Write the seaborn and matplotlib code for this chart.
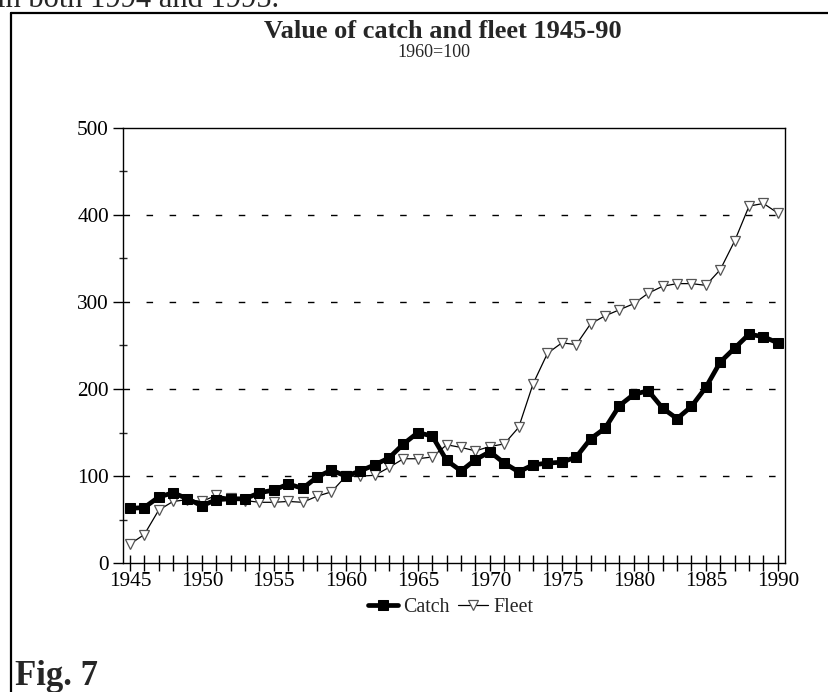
import numpy as np
import pandas as pd
import matplotlib
matplotlib.use("Agg")
import matplotlib.pyplot as plt
import seaborn as sns
from matplotlib.lines import Line2D
from matplotlib.ticker import MultipleLocator

years = list(range(1945, 1991))
catch = [63, 64, 76, 81, 74, 66, 73, 74, 74, 81, 84, 91, 86, 99, 107,
         100, 106, 113, 121, 137, 150, 146, 118, 106, 119, 128, 115, 105, 113, 115,
         116, 122, 143, 155, 181, 194, 198, 178, 166, 180, 202, 231, 247, 263, 260, 253]
fleet = [22, 33, 61, 71, 73, 71, 78, 75, 72, 70, 70, 71, 70, 77, 82,
         100, 100, 101, 110, 120, 120, 122, 136, 133, 129, 134, 137, 156, 206, 241,
         253, 251, 275, 284, 291, 298, 310, 318, 321, 321, 319, 337, 370, 410, 413, 402]
x_labels = ["1945", "1950", "1955", "1960", "1965", "1970", "1975", "1980", "1985", "1990"]
y_ticks = [0, 100, 200, 300, 400, 500]

df = pd.DataFrame({"Year": years, "Catch": catch, "Fleet": fleet})

sns.set_style("ticks")
plt.rcParams["font.family"] = ["Liberation Serif", "DejaVu Serif"]

fig = plt.figure(figsize=(8.29, 6.92), dpi=100)
ax = fig.add_axes([0.148, 0.186, 0.799, 0.6295])

sns.lineplot(data=df, x="Year", y="Catch", ax=ax, color="black", linewidth=3.4,
             marker="s", markersize=7, markerfacecolor="black", markeredgecolor="black",
             label="Catch", zorder=4)
sns.lineplot(data=df, x="Year", y="Fleet", ax=ax, color="black", linewidth=0.9,
             marker="v", markersize=7, markerfacecolor="white", markeredgecolor="#555555",
             markeredgewidth=0.9, label="Fleet", zorder=3)

ax.set_xlim(1944.5, 1990.5)
ax.set_ylim(0, 500)
ax.set_xlabel("")
ax.set_ylabel("")

ax.set_xticks(years)
ax.set_xticklabels([str(y) if str(y) in x_labels else "" for y in years])
ax.set_yticks(y_ticks)
ax.set_yticklabels([str(v) for v in y_ticks])
ax.yaxis.set_minor_locator(MultipleLocator(50))

ax.tick_params(axis="x", which="major", direction="inout", length=12, width=1,
               labelsize=15.3, colors="black", pad=0)
ax.tick_params(axis="y", which="major", direction="out", length=7, width=1,
               labelsize=15.3, colors="black", pad=3)
ax.tick_params(axis="y", which="minor", direction="inout", length=6, width=1)

for v in y_ticks[1:-1]:
    ax.axhline(v, color="black", linewidth=1.0, dashes=(4.7, 11.9), zorder=1)

for s in ax.spines.values():
    s.set_visible(True)
    s.set_color("black")
    s.set_linewidth(1.0)

leg = ax.legend(loc="center", bbox_to_anchor=(0.495, -0.101), ncol=2, frameon=False,
                fontsize=14.3, handlelength=1.5, handletextpad=0.25, columnspacing=0.45)

fig.text(0.534, 0.955, "Value of catch and fleet 1945-90", ha="center", va="center",
         fontsize=19, fontweight="bold")
fig.text(0.524, 0.924, "1960=100", ha="center", va="center", fontsize=13)

fig.text(0.018, 0.010, "Fig. 7", ha="left", va="baseline", fontsize=25, fontweight="bold")
fig.text(-0.004, 0.990, "in both 1994 and 1995.", ha="left", va="baseline", fontsize=22)

fig.add_artist(Line2D([0.0133, 0.0133], [0.0, 0.9812], transform=fig.transFigure,
                      color="black", linewidth=1.6))
fig.add_artist(Line2D([0.0133, 1.0], [0.9812, 0.9812], transform=fig.transFigure,
                      color="black", linewidth=1.6))

fig.savefig("out.png", dpi=100)
